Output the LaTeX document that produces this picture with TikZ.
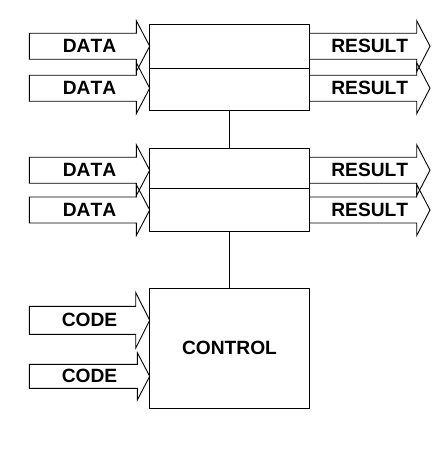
\documentclass[tikz,border=0pt]{standalone}
\usepackage{fontspec}
\setmainfont[Kerning=Off]{Liberation Sans}
\tikzset{
 blk/.style={draw,rectangle,line width=1pt,inner sep=0pt,minimum width=159.6pt},
 lbl/.style={inner sep=0pt,font=\fontsize{19.2}{22}\selectfont\bfseries},
 fat/.style={draw,line width=0.9pt,line join=miter}
}
% #1 name, #2 tail x, #3 head base x, #4 tip x, #5 centre y, #6 shaft half, #7 head half, #8 text
\newcommand{\fatarrow}[8]{%
 \draw[fat] (#2,#5-#6) -- (#3,#5-#6) -- (#3,#5-#7) -- (#4,#5) -- (#3,#5+#7)
  -- (#3,#5+#6) -- (#2,#5+#6) -- cycle;
 \node[lbl] (#1) at ({(#2+#4)/2},#5) {#8};
}
\begin{document}
\begin{tikzpicture}[x=1pt,y=-1pt]
\useasboundingbox (0,0) rectangle (445,461);
\node[blk,minimum height=44pt](p1a) at (229.5,46.3){};
 \node[blk,minimum height=41.7pt](p1b) at (229.5,89.15){};
 \node[blk,minimum height=40pt](p2a) at (229.5,168.3){};
 \node[blk,minimum height=43.4pt](p2b) at (229.5,210){};
 \node[blk,minimum height=120pt](ctrl) at (229.5,348.3){};
 \node[lbl](ctrltext) at (ctrl.center){CONTROL};

 \draw [line width=1pt] (p1b.south) -- (p2a.north);
 \draw [line width=1pt] (p2b.south) -- (ctrl.north);

 \fatarrow{data1}{29.3}{136.3}{149.7}{46.2}{13}{25.5}{DATA}
 \fatarrow{data2}{29.3}{136.3}{149.7}{88.2}{13}{25.5}{DATA}
 \fatarrow{data3}{29.3}{136.3}{149.7}{170.2}{13}{25.5}{DATA}
 \fatarrow{data4}{29.3}{136.3}{149.7}{210}{13}{25.5}{DATA}
 \fatarrow{res1}{309.5}{416.7}{430}{46.2}{13}{25.5}{RESULT}
 \fatarrow{res2}{309.5}{416.7}{430}{88.2}{13}{25.5}{RESULT}
 \fatarrow{res3}{309.5}{416.7}{430}{170.2}{13}{25.5}{RESULT}
 \fatarrow{res4}{309.5}{416.7}{430}{210}{13}{25.5}{RESULT}
 \fatarrow{code1}{29.3}{135.7}{149.7}{320.3}{14}{27.8}{CODE}
 \fatarrow{code2}{29.3}{137.3}{149.7}{376.3}{12}{23.7}{CODE}
\end{tikzpicture}
\end{document}
